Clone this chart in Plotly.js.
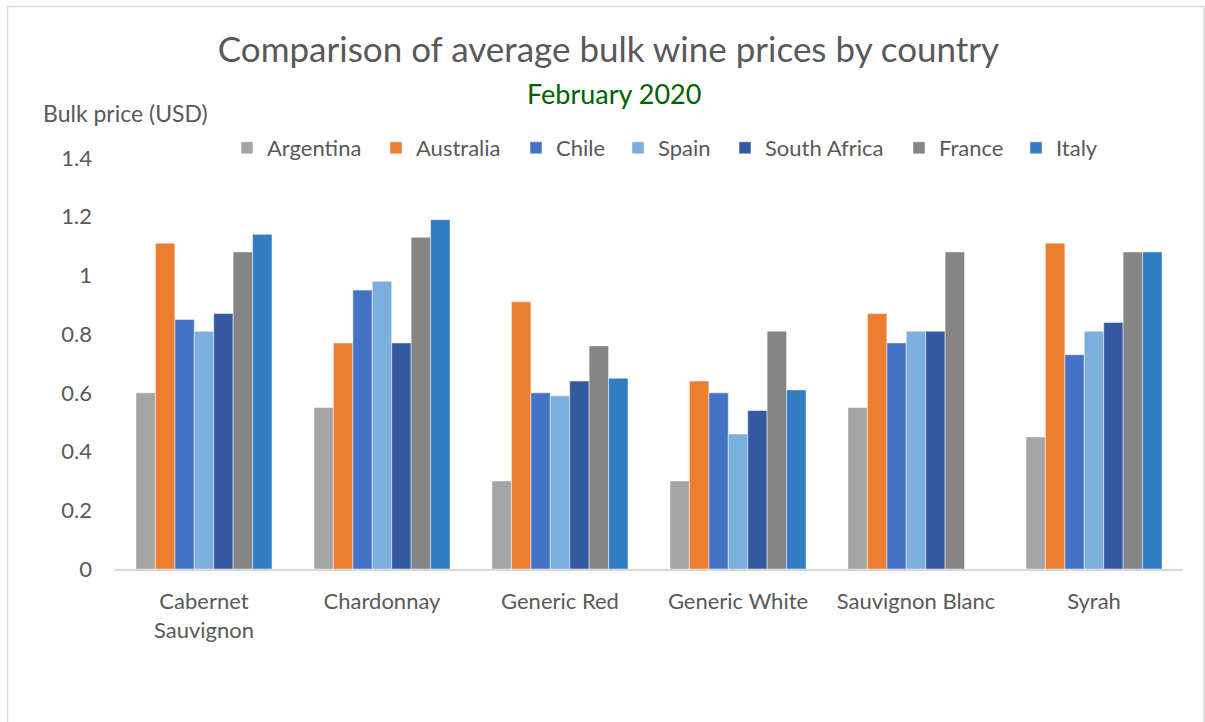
<!DOCTYPE html>
<html>
<head>
<meta charset="utf-8">
<script src="https://cdn.plot.ly/plotly-3.0.1.min.js"></script>
<style>
html,body{margin:0;padding:0;background:#fff;}
#chart{width:1205px;height:722px;}
</style>
</head>
<body>
<div id="chart"></div>
<script>
const categories = ["Cabernet<br>Sauvignon", "Chardonnay", "Generic Red", "Generic White", "Sauvignon Blanc", "Syrah"];
const countries = ["Argentina", "Australia", "Chile", "Spain", "South Africa", "France", "Italy"];
const argentina   = [0.60, 0.55, 0.30, 0.30, 0.55, 0.45];
const australia   = [1.11, 0.77, 0.91, 0.64, 0.87, 1.11];
const chile       = [0.85, 0.95, 0.60, 0.60, 0.77, 0.73];
const spain       = [0.81, 0.98, 0.59, 0.46, 0.81, 0.81];
const southAfrica = [0.87, 0.77, 0.64, 0.54, 0.81, 0.84];
const france      = [1.08, 1.13, 0.76, 0.81, 1.08, 1.08];
const italy       = [1.14, 1.19, 0.65, 0.61, null, 1.08];
const yTicks = [0, 0.2, 0.4, 0.6, 0.8, 1, 1.2, 1.4];

const seriesValues = [argentina, australia, chile, spain, southAfrica, france, italy];
const colors = ["#A5A5A5", "#ED7D31", "#4472C4", "#7DAFDE", "#335AA1", "#858585", "#327DC2"];

const FONT = "Lato, 'Liberation Sans', sans-serif";
const TXT = "#595959";

// plot area geometry (pixels)
const PL = 115, PR = 1183, PT = 158, PB = 569;
const px2x = p => (p - PL) / (PR - PL);
const px2y = p => (PB - p) / (PB - PT);

// legend text start positions in the reference (pixels)
const legendTextStarts = [264, 413, 553, 655, 762, 936, 1053];

const traces = countries.map((name, i) => ({
  type: "bar",
  name: name,
  x: categories,
  y: seriesValues[i],
  legend: i === 0 ? "legend" : "legend" + (i + 1),
  marker: {color: colors[i], line: {color: "rgba(255,255,255,0.6)", width: 0.8}},
  hoverinfo: "x+y+name"
}));

const layout = {
  width: 1205,
  height: 722,
  paper_bgcolor: "#ffffff",
  plot_bgcolor: "#ffffff",
  font: {family: FONT, color: TXT, size: 22},
  margin: {l: PL, r: 1205 - PR, t: PT, b: 722 - PB},
  barmode: "group",
  bargap: 0.236,
  bargroupgap: 0,
  title: {
    text: "Comparison of average bulk wine prices by country",
    font: {family: FONT, size: 35, color: TXT},
    x: 608.5 / 1205, xanchor: "center", xref: "container",
    y: 1 - 50 / 722, yref: "container", yanchor: "middle"
  },
  xaxis: {
    type: "category",
    showgrid: false,
    showline: true,
    linecolor: "#D9D9D9",
    linewidth: 2,
    ticks: "",
    ticklabelstandoff: 12,
    tickfont: {family: FONT, size: 22, color: TXT},
    zeroline: false,
    fixedrange: true
  },
  yaxis: {
    range: [0, 1.4],
    tickvals: yTicks,
    ticktext: yTicks.map(v => String(v)),
    showgrid: false,
    showline: false,
    zeroline: false,
    ticks: "",
    ticklabelstandoff: 22,
    tickfont: {family: FONT, size: 22, color: TXT},
    fixedrange: true
  },
  annotations: [
    {
      text: "February 2020",
      xref: "paper", yref: "paper",
      x: px2x(614), y: px2y(93),
      xanchor: "center", yanchor: "middle",
      showarrow: false,
      font: {family: FONT, size: 27, color: "#006100"}
    },
    {
      text: "Bulk price (USD)",
      xref: "paper", yref: "paper",
      x: px2x(41), y: px2y(113),
      xanchor: "left", yanchor: "middle",
      showarrow: false,
      font: {family: FONT, size: 23, color: TXT}
    }
  ],
  shapes: [
    {
      type: "rect", xref: "paper", yref: "paper",
      x0: px2x(7.5), x1: px2x(1204),
      y0: px2y(740), y1: px2y(6.5),
      line: {color: "#D9D9D9", width: 1.5},
      fillcolor: "rgba(0,0,0,0)",
      layer: "below"
    }
  ],
  showlegend: true
};

legendTextStarts.forEach((tx, i) => {
  const key = i === 0 ? "legend" : "legend" + (i + 1);
  layout[key] = {
    orientation: "h",
    x: px2x(tx - 37), xanchor: "left",
    y: px2y(148), yanchor: "middle",
    font: {family: FONT, size: 22, color: TXT},
    bgcolor: "rgba(0,0,0,0)",
    itemclick: false,
    itemdoubleclick: false
  };
});

Plotly.newPlot("chart", traces, layout, {displayModeBar: false, responsive: false});
</script>
</body>
</html>
